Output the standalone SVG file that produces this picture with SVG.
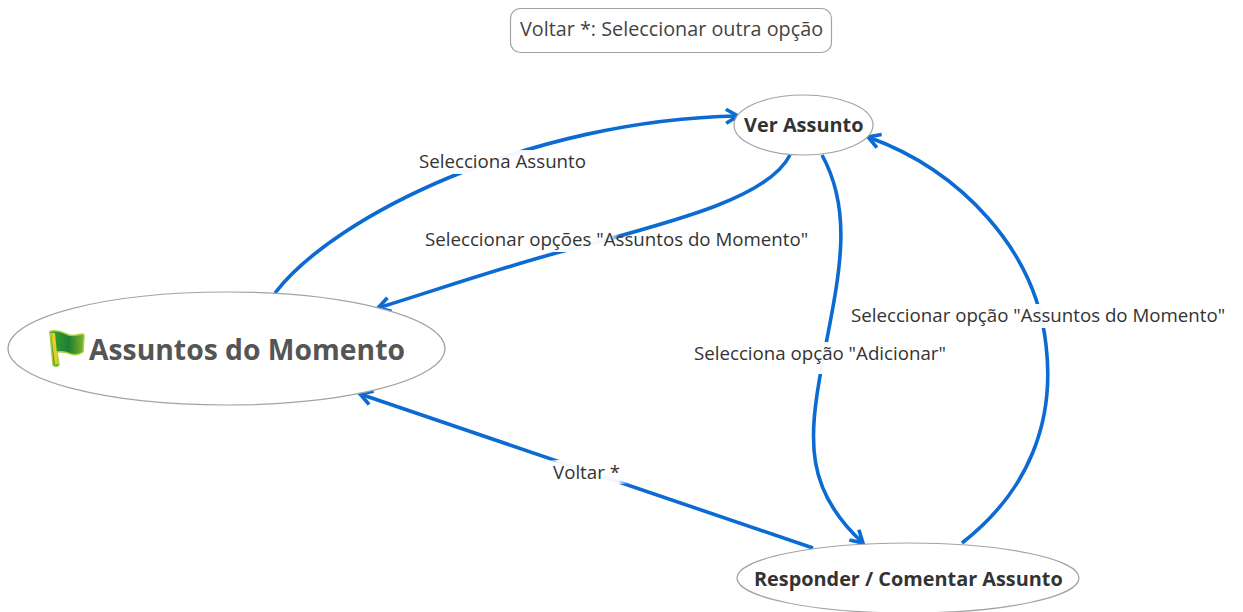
<svg xmlns="http://www.w3.org/2000/svg" width="1243" height="612" viewBox="0 0 1243 612">
<style>
.node{fill:#fff;stroke:#a3a3a3;stroke-width:1.2}
.conn{fill:none;stroke:#0b6bd3;stroke-width:3.6}
.lbl{font-family:"Open Sans","Noto Sans",sans-serif;font-size:18.7px;fill:#333}
.bold{font-family:"Open Sans","Noto Sans",sans-serif;font-weight:700;fill:#333}
</style>
<defs>
<marker id="arrow" markerUnits="userSpaceOnUse" markerWidth="22" markerHeight="22" refX="16" refY="11" orient="auto">
<path d="M4 4L16 11L4 18" fill="none" stroke="#0b6bd3" stroke-width="3.6"/>
</marker>
<linearGradient id="fade" x1="0" x2="1" y1="0" y2="0">
<stop offset="0" stop-color="#fff" stop-opacity="0"/>
<stop offset=".12" stop-color="#fff" stop-opacity=".95"/>
<stop offset=".88" stop-color="#fff" stop-opacity=".95"/>
<stop offset="1" stop-color="#fff" stop-opacity="0"/>
</linearGradient>
<linearGradient id="flagG" x1="0" x2="1" y1="0" y2="0">
<stop offset="0" stop-color="#3fa52f"/><stop offset=".55" stop-color="#1d7d33"/><stop offset="1" stop-color="#7fb52c"/>
</linearGradient>
</defs>
<g id="connectors">
<path class="conn" marker-end="url(#arrow)" d="M275 293C335 215 530 120 738 116"/>
<path class="conn" marker-end="url(#arrow)" d="M790 155C770 195 690 218 560 252C500 268 430 292 378 308"/>
<path class="conn" marker-end="url(#arrow)" d="M822 155C855 215 838 280 822 365C808 440 805 490 863 543"/>
<path class="conn" marker-end="url(#arrow)" d="M962 543C1030 490 1055 420 1046 345C1036 250 960 170 868 137"/>
<path class="conn" marker-end="url(#arrow)" d="M813 548L360 394"/>
</g>
<g id="labels">
<rect x="440" y="150" width="130" height="24" fill="url(#fade)"/>
<text class="lbl" x="419" y="168">Selecciona Assunto</text>
<rect x="540" y="228" width="80" height="24" fill="url(#fade)"/>
<text class="lbl" x="425" y="245.500">Seleccionar opções "Assuntos do Momento"</text>
<rect x="800" y="342" width="44" height="32" fill="url(#fade)"/>
<text class="lbl" x="694" y="359.500">Selecciona opção "Adicionar"</text>
<rect x="1025" y="304" width="44" height="24" fill="url(#fade)"/>
<text class="lbl" x="851" y="322">Seleccionar opção "Assuntos do Momento"</text>
<rect x="548" y="460" width="80" height="24" fill="url(#fade)"/>
<text class="lbl" x="553" y="478.500">Voltar *</text>
</g>
<g id="note">
<rect class="node" x="510.500" y="8.500" width="321" height="44" rx="10"/>
<text x="520" y="36" font-family="'Open Sans','Noto Sans',sans-serif" font-size="19.800" fill="#444">Voltar *: Seleccionar outra opção</text>
</g>
<g id="assuntos">
<ellipse class="node" cx="226.500" cy="348.500" rx="218.500" ry="56.500"/>
<path d="M50 333Q49 331 52 331C58 330 64 333 69 335C73 336 78 335 82 334Q84 334 84 336L83 352Q77 356 71 354C66 352 62 351 57 352L59 365Q56 368 53 365Z" fill="url(#flagG)" stroke="#a9cf3a" stroke-width="1.500" stroke-linejoin="round"/>
<path d="M51 333L55 333L58 364L55 365Z" fill="#e3cf2e"/>
<text class="bold" x="89" y="360" font-size="28.300px" style="fill:#555">Assuntos do Momento</text>
</g>
<g id="ver">
<ellipse class="node" cx="803.500" cy="125" rx="69.500" ry="30"/>
<text class="bold" x="744" y="131.500" font-size="19.900px">Ver Assunto</text>
</g>
<g id="responder">
<ellipse class="node" cx="908" cy="578" rx="171" ry="35"/>
<text class="bold" x="754" y="585.500" font-size="19.850px">Responder / Comentar Assunto</text>
</g>
</svg>
